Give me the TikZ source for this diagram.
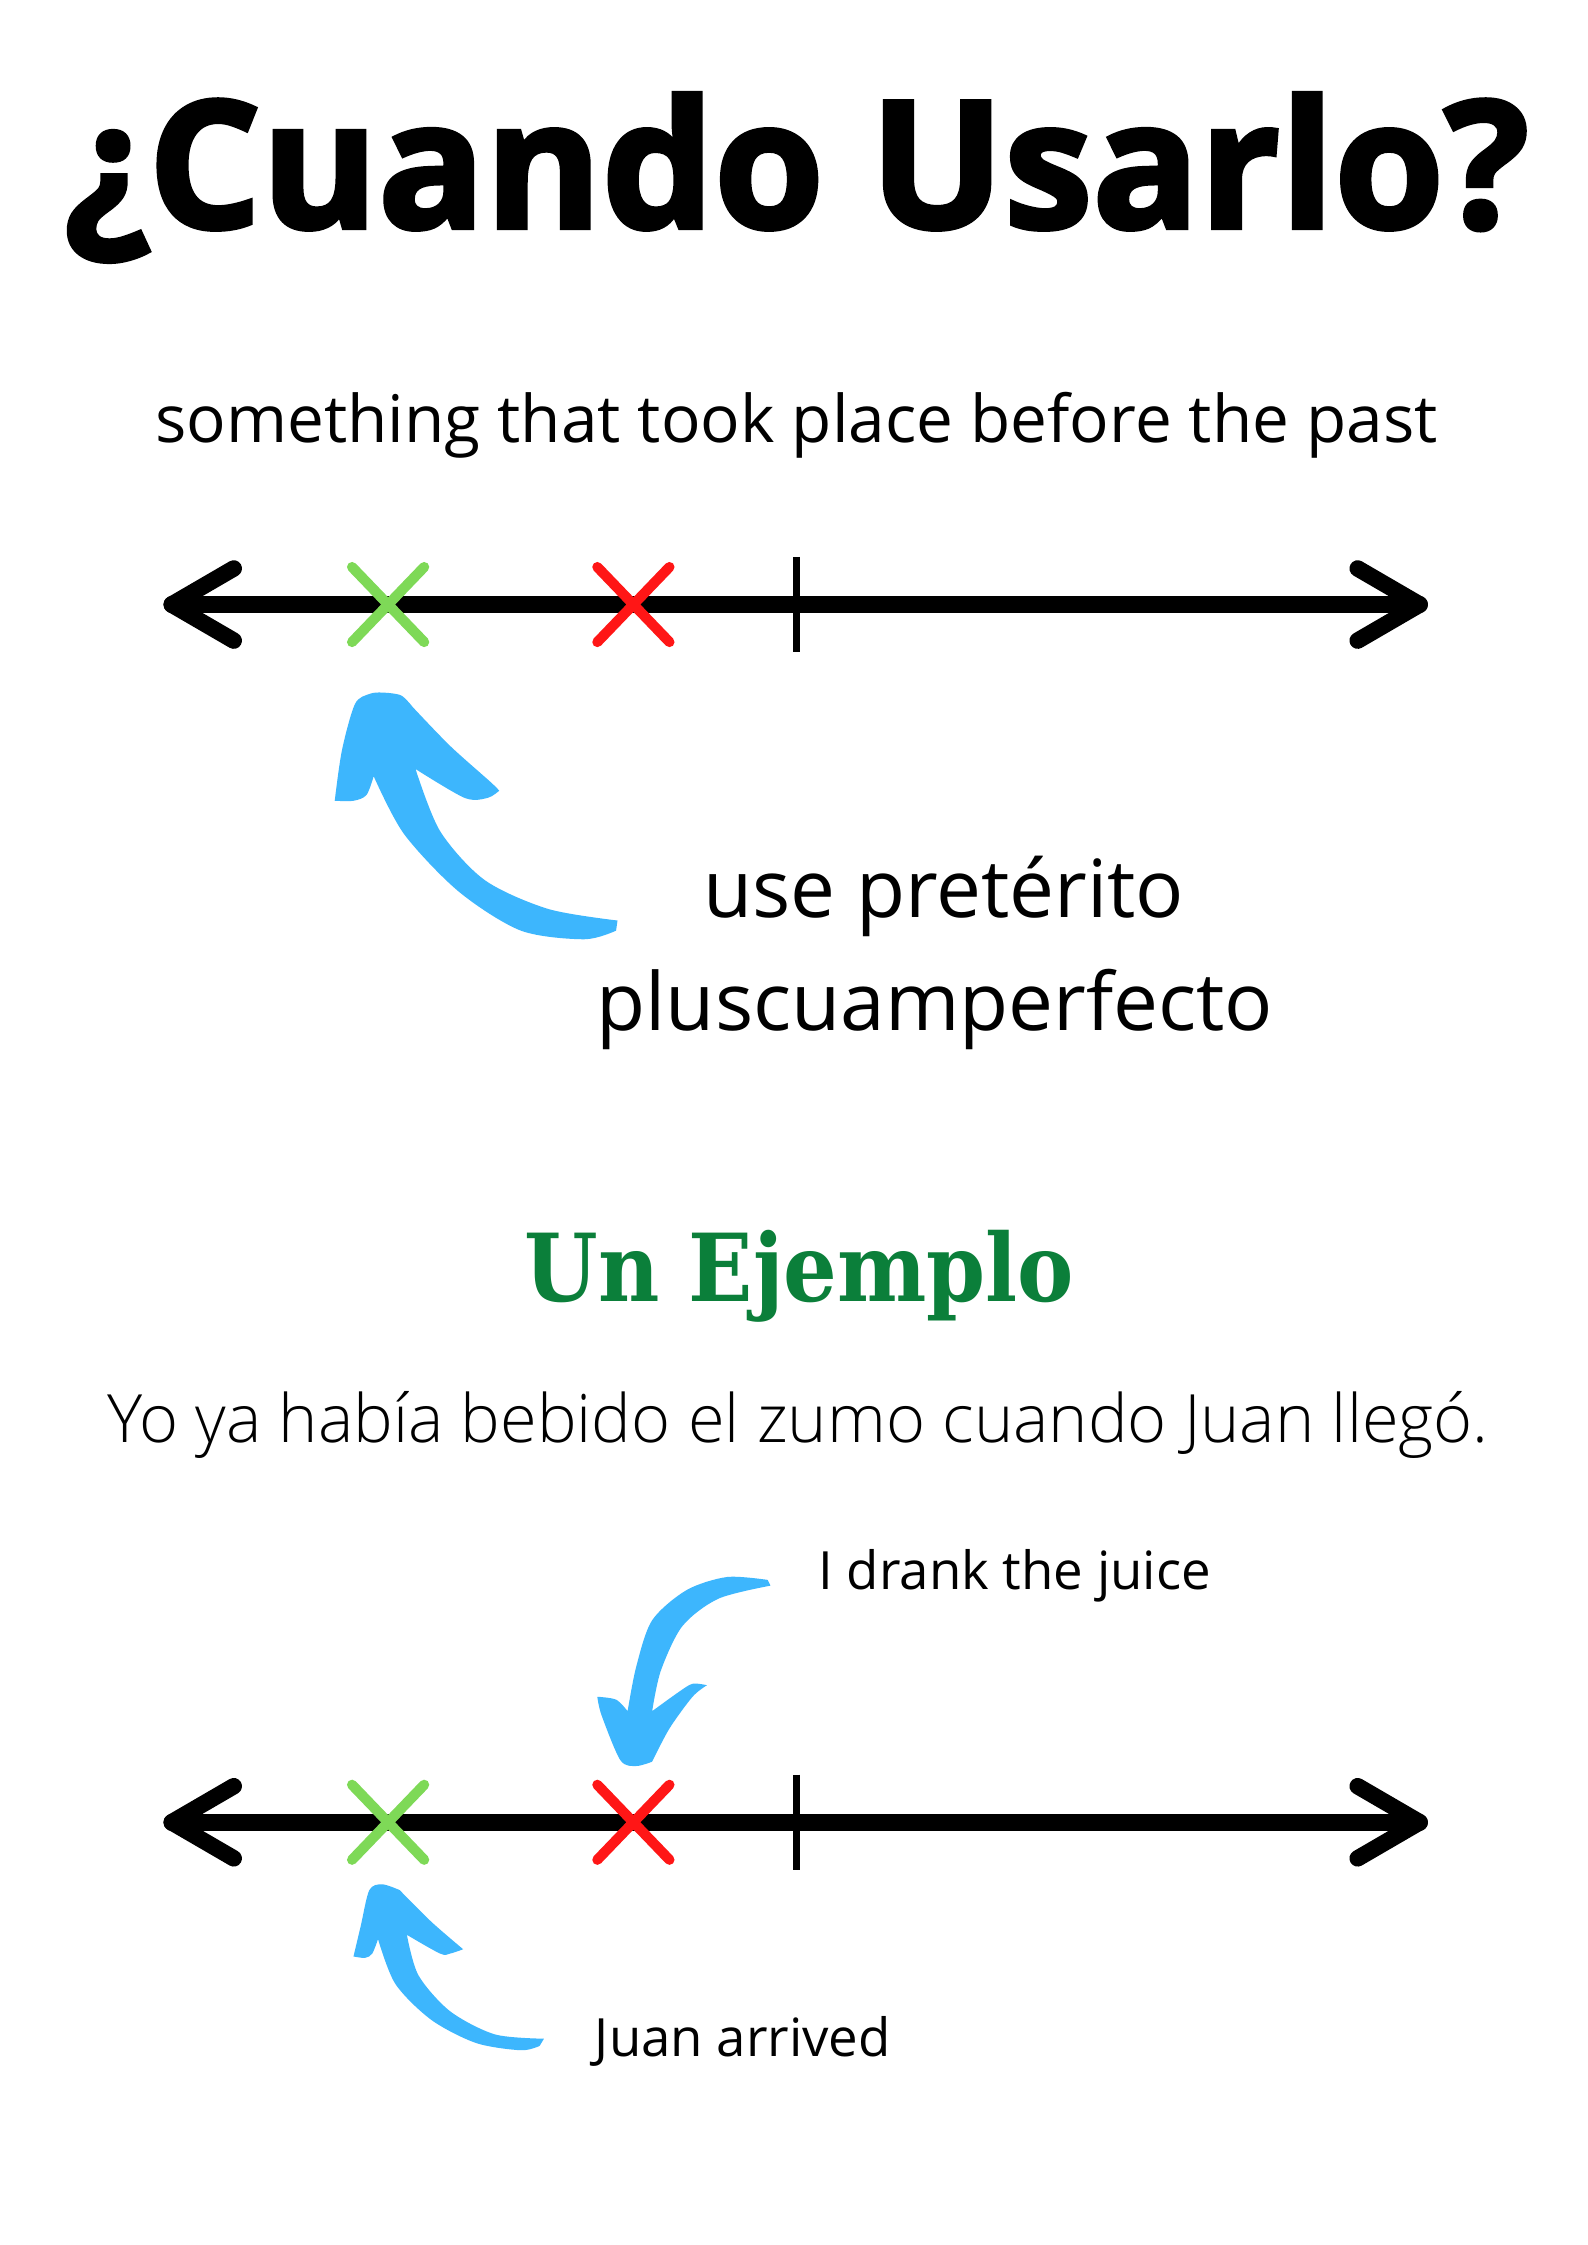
\documentclass[tikz,border=0pt]{standalone}
\usepackage{fontspec}
\setmainfont{Open Sans}
\newfontfamily\titlefont{Open Sans}[FakeBold=2.5]
\newfontfamily\lightfont{Open Sans Light}
\newfontfamily\slabfont{DejaVu Serif}[FakeStretch=0.9]
\definecolor{hintblue}{RGB}{61,182,253}
\definecolor{pastgreen}{RGB}{126,217,87}
\definecolor{pastred}{RGB}{255,22,22}
\definecolor{examplegreen}{RGB}{11,127,58}
\begin{document}
\begin{tikzpicture}[x=0.2mm,y=-0.2mm]
\tikzstyle{axis}=[draw, line width=6.5pt, line cap=round, line join=round]
\tikzstyle{nowtick}=[draw, line width=2.8pt]
\tikzstyle{crossmark}=[draw, line width=4pt, line cap=round]
\tikzstyle{hint}=[fill=hintblue]
\tikzstyle{labeltext}=[inner sep=0pt, text=black]

\fill[white] (0,0) rectangle (1100,1556);
\useasboundingbox (0,0) rectangle (1100,1556);

% Headings and texts
\node[labeltext, anchor=base] (title) at (552,158) {\fontsize{70}{84}\selectfont\titlefont\bfseries ¿Cuando Usarlo?};
\node[labeltext, anchor=base] (subtitle) at (552,307) {\fontsize{25.9}{31}\selectfont something that took place before the past};
\node[labeltext, anchor=base] (usage1) at (654,636) {\fontsize{31.6}{38}\selectfont use pretérito};
\node[labeltext, anchor=base] (usage2) at (648,714) {\fontsize{31.6}{38}\selectfont pluscuamperfecto};
\node[labeltext, anchor=base, text=examplegreen] (example) at (554,902) {\fontsize{37}{44}\selectfont\slabfont\bfseries Un Ejemplo};
\node[labeltext, anchor=base] (sentence) at (553,1000) {\fontsize{26.3}{31}\selectfont\lightfont Yo ya había bebido el zumo cuando Juan llegó.};
\node[labeltext, anchor=base west] (drank) at (567,1102) {\fontsize{20.8}{25}\selectfont I drank the juice};
\node[labeltext, anchor=base west] (arrived) at (412,1425) {\fontsize{20.8}{25}\selectfont Juan arrived};

% Timeline points
\coordinate (left1) at (119,419);
\coordinate (right1) at (984,419);
\coordinate (green1) at (269,419);
\coordinate (red1) at (439,419);
\coordinate (now1) at (552,419);
\coordinate (left2) at (119,1263);
\coordinate (right2) at (984,1263);
\coordinate (green2) at (269,1263);
\coordinate (red2) at (439,1263);
\coordinate (now2) at (552,1263);

% Draw timelines
\draw[axis] (left1) -- (right1);
\draw[axis] (left1) ++(43,-25) -- (left1) -- ++(43,25);
\draw[axis] (right1) ++(-43,-25) -- (right1) -- ++(-43,25);
\draw[nowtick] (now1) ++(0,-33) -- ++(0,66);
\draw[axis] (left2) -- (right2);
\draw[axis] (left2) ++(43,-25) -- (left2) -- ++(43,25);
\draw[axis] (right2) ++(-43,-25) -- (right2) -- ++(-43,25);
\draw[nowtick] (now2) ++(0,-33) -- ++(0,66);

% Crosses
\draw[crossmark, pastgreen] (green1) ++(-25,-26) -- ++(50,52) (green1) ++(-25,26) -- ++(50,-52);
\draw[crossmark, pastred] (red1) ++(-25,-26) -- ++(50,52) (red1) ++(-25,26) -- ++(50,-52);
\draw[crossmark, pastgreen] (green2) ++(-25,-26) -- ++(50,52) (green2) ++(-25,26) -- ++(50,-52);
\draw[crossmark, pastred] (red2) ++(-25,-26) -- ++(50,52) (red2) ++(-25,26) -- ++(50,-52);

% Blue hint arrows
\fill[hint] (232,555) -- plot[smooth] coordinates {(232,555) (237,520) (246,488) (256,481) (265,480) (278,482) (286,490)}
  -- plot[smooth] coordinates {(286,490) (312,517) (340,542) (346,548)}
  -- plot[smooth] coordinates {(346,548) (338,553) (322,553) (288,533)}
  -- plot[smooth] coordinates {(288,533) (305,576) (336,610) (380,630) (428,638)}
  -- (427,645)
  -- plot[smooth] coordinates {(427,645) (405,651) (361,645) (318,618) (280,578) (259,538)}
  -- plot[smooth] coordinates {(259,538) (254,551) (245,555) (232,555)} -- cycle;
\fill[hint] (532,1095) -- plot[smooth] coordinates {(532,1095) (504,1093) (476,1102) (452,1123) (441,1155) (435,1186)}
  -- plot[smooth] coordinates {(435,1186) (427,1178) (414,1176)}
  -- plot[smooth] coordinates {(414,1176) (417,1189) (430,1220) (441,1224) (452,1221)}
  -- plot[smooth] coordinates {(452,1221) (464,1198) (480,1176) (490,1168)}
  -- plot[smooth] coordinates {(490,1168) (480,1167) (470,1173) (452,1186)}
  -- plot[smooth] coordinates {(452,1186) (458,1158) (473,1127) (498,1108) (534,1099)} -- cycle;
\fill[hint] (245,1356) -- plot[smooth] coordinates {(245,1356) (250,1335) (256,1310) (265,1306) (277,1310)}
  -- plot[smooth] coordinates {(277,1310) (299,1332) (321,1351)}
  -- plot[smooth] coordinates {(321,1351) (312,1354) (305,1354) (282,1341)}
  -- plot[smooth] coordinates {(282,1341) (290,1369) (312,1394) (343,1410) (377,1413)}
  -- (374,1418)
  -- plot[smooth] coordinates {(374,1418) (361,1421) (330,1416) (299,1400) (274,1375) (262,1344)}
  -- plot[smooth] coordinates {(262,1344) (258,1354) (253,1357) (245,1356)} -- cycle;
\end{tikzpicture}
\end{document}
